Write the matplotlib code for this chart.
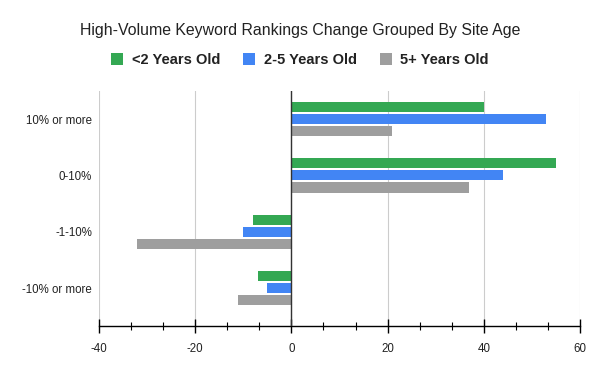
import matplotlib
matplotlib.use("Agg")
import matplotlib.pyplot as plt
import numpy as np

categories = ["10% or more", "0-10%", "-1-10%", "-10% or more"]
series_names = ["<2 Years Old", "2-5 Years Old", "5+ Years Old"]
under_2 = [40, 55, -8, -7]
two_to_5 = [53, 44, -10, -5]
five_plus = [21, 37, -32, -11]
colors = ["#34a853", "#4285f4", "#9e9e9e"]
xticks = [-40, -20, 0, 20, 40, 60]

plt.rcParams['font.family'] = ['Liberation Sans', 'DejaVu Sans']
plt.rcParams['axes.unicode_minus'] = False

fig = plt.figure(figsize=(6, 3.71), dpi=100)
ax = fig.add_axes([99/600, 1-326/371, (580-99)/600, (326-91)/371])

y = np.arange(len(categories))
bh = 0.18
pitch = 0.215
for i, (vals, name, c) in enumerate(zip([under_2, two_to_5, five_plus], series_names, colors)):
    ax.barh(y + (i-1)*pitch, vals, height=bh, color=c, label=name, zorder=3)

ax.set_xlim(-40, 60)
ax.set_ylim(3.675, -0.5)
ax.set_xticks(xticks)
ax.set_xticks(np.arange(-40, 60.1, 20/3), minor=True)
ax.set_yticks(y)
ax.set_yticklabels(categories)
ax.tick_params(axis='y', length=0, labelsize=8.3, pad=5, colors='#222222')
ax.tick_params(axis='x', which='major', direction='inout', length=10, width=1, labelsize=8.3, pad=7, colors='black')
ax.tick_params(axis='x', which='minor', direction='inout', length=6, width=0.8)
for lbl in ax.get_xticklabels():
    lbl.set_color('#222222')
ax.grid(axis='x', which='major', color='#cccccc', linewidth=0.8, zorder=0)
ax.axvline(0, color='#333333', linewidth=1, zorder=4)
for s in ['top', 'right', 'left']:
    ax.spines[s].set_visible(False)
ax.spines['bottom'].set_color('black')
ax.spines['bottom'].set_linewidth(1)

fig.text(0.5, 1-30/371, "High-Volume Keyword Rankings Change Grouped By Site Age",
         ha='center', va='center', fontsize=11.4, color='#222222')
leg = fig.legend(loc='center', bbox_to_anchor=(0.5, 1-60/371), ncol=3, frameon=False,
                 prop={'weight': 'bold', 'size': 10.5}, handlelength=0.8, handleheight=0.8,
                 columnspacing=1.6, handletextpad=0.6)
for t in leg.get_texts():
    t.set_color('#222222')

fig.savefig("out.png", dpi=100)
